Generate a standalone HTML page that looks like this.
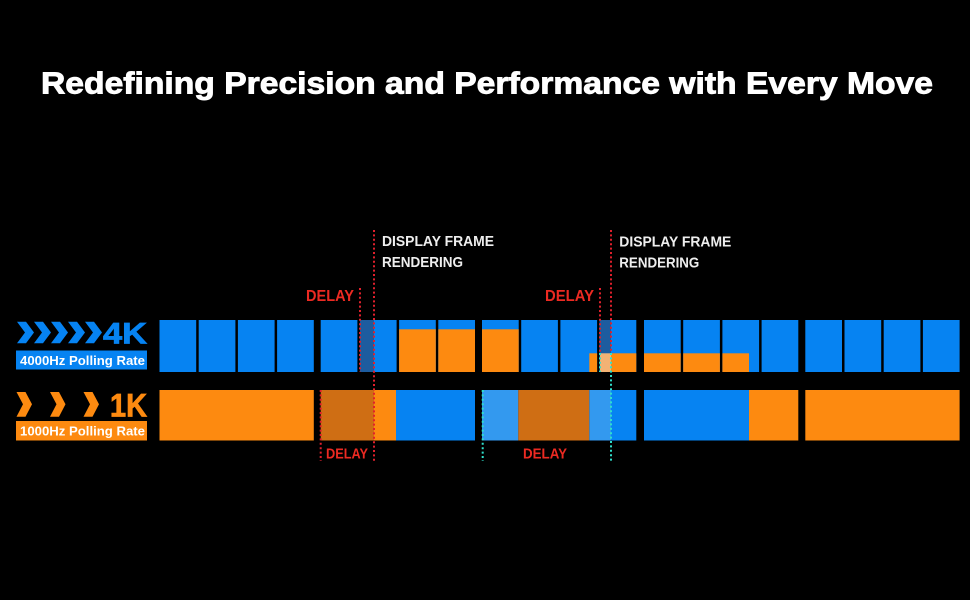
<!DOCTYPE html>
<html><head><meta charset="utf-8"><style>
html,body{margin:0;padding:0;background:#000;}
svg{display:block;}
text{font-family:"Liberation Sans",sans-serif;}
</style></head><body>
<svg width="970" height="600" viewBox="0 0 970 600" xmlns="http://www.w3.org/2000/svg">
<rect width="970" height="600" fill="#000"/>
<text x="41" y="93.5" font-size="31" font-weight="bold" fill="#fff" stroke="#fff" stroke-width="0.9" textLength="892" lengthAdjust="spacingAndGlyphs">Redefining Precision and Performance with Every Move</text>

<!-- Row 1 blue blocks -->
<g fill="#0683f2">
<rect x="159.5" y="320" width="36.7" height="52"/><rect x="198.7" y="320" width="36.7" height="52"/><rect x="237.9" y="320" width="36.7" height="52"/><rect x="277.1" y="320" width="36.7" height="52"/>
<rect x="320.7" y="320" width="36.7" height="52"/><rect x="359.9" y="320" width="36.7" height="52"/><rect x="399.1" y="320" width="36.7" height="52"/><rect x="438.3" y="320" width="36.7" height="52"/>
<rect x="482" y="320" width="36.7" height="52"/><rect x="521.2" y="320" width="36.7" height="52"/><rect x="560.4" y="320" width="36.7" height="52"/><rect x="599.6" y="320" width="36.7" height="52"/>
<rect x="644" y="320" width="36.7" height="52"/><rect x="683.2" y="320" width="36.7" height="52"/><rect x="722.4" y="320" width="36.7" height="52"/><rect x="761.6" y="320" width="36.7" height="52"/>
<rect x="805.3" y="320" width="36.7" height="52"/><rect x="844.5" y="320" width="36.7" height="52"/><rect x="883.7" y="320" width="36.7" height="52"/><rect x="922.9" y="320" width="36.7" height="52"/>
</g>
<!-- Row 1 orange overlays -->
<g fill="#fd8a10">
<rect x="399.1" y="329.3" width="36.7" height="42.7"/>
<rect x="438.3" y="329.3" width="36.7" height="42.7"/>
<rect x="482" y="329.3" width="36.7" height="42.7"/>
<rect x="589.3" y="353.3" width="7.8" height="18.7"/>
<rect x="611" y="353.3" width="25.3" height="18.7"/>
<rect x="644" y="353.3" width="36.7" height="18.7"/>
<rect x="683.2" y="353.3" width="36.7" height="18.7"/>
<rect x="722.4" y="353.3" width="26.6" height="18.7"/>
</g>
<rect x="360" y="320" width="14" height="52" fill="#1d5c9f"/>
<rect x="600" y="320" width="11" height="33.3" fill="#1d5c9f"/>
<rect x="600" y="353.3" width="11" height="18.7" fill="#f3b274"/>

<!-- Row 2 -->
<rect x="159.5" y="390" width="154.3" height="50.5" fill="#fd8a10"/>
<rect x="320.7" y="390" width="53.3" height="50.5" fill="#cf6e14"/>
<rect x="374" y="390" width="22" height="50.5" fill="#fd8a10"/>
<rect x="396" y="390" width="79" height="50.5" fill="#0683f2"/>
<rect x="482" y="390" width="36.3" height="50.5" fill="#3399ef"/>
<rect x="518.3" y="390" width="71" height="50.5" fill="#cf6e14"/>
<rect x="589.3" y="390" width="21.7" height="50.5" fill="#3399ef"/>
<rect x="611" y="390" width="25.3" height="50.5" fill="#0683f2"/>
<rect x="644" y="390" width="105" height="50.5" fill="#0683f2"/>
<rect x="749" y="390" width="49.3" height="50.5" fill="#fd8a10"/>
<rect x="805.3" y="390" width="154.3" height="50.5" fill="#fd8a10"/>

<!-- Dotted lines -->
<g stroke-width="2" stroke-dasharray="2 2.4" fill="none">
<line x1="360" y1="288" x2="360" y2="372" stroke="#e0202c"/>
<line x1="374" y1="230" x2="374" y2="461" stroke="#e0202c"/>
<line x1="320.7" y1="390" x2="320.7" y2="461" stroke="#e0202c"/>
<line x1="600" y1="288" x2="600" y2="353" stroke="#e0202c"/>
<line x1="600" y1="353" x2="600" y2="372" stroke="#2fe0cc"/>
<line x1="611" y1="230" x2="611" y2="353" stroke="#e0202c"/>
<line x1="611" y1="353" x2="611" y2="461" stroke="#2fe0cc"/>
<line x1="482.7" y1="390" x2="482.7" y2="461" stroke="#2fe0cc"/>
</g>

<!-- Annotations -->
<g font-weight="bold">
<text x="306" y="301" font-size="15.5" fill="#ec2a22" textLength="48" lengthAdjust="spacingAndGlyphs">DELAY</text>
<text x="545" y="301" font-size="15.5" fill="#ec2a22" textLength="49" lengthAdjust="spacingAndGlyphs">DELAY</text>
<text x="326" y="458.3" font-size="14.5" fill="#ec2a22" textLength="42" lengthAdjust="spacingAndGlyphs">DELAY</text>
<text x="523" y="458.3" font-size="14.5" fill="#ec2a22" textLength="44" lengthAdjust="spacingAndGlyphs">DELAY</text>
<text x="382" y="246" font-size="15" fill="#eee" textLength="112" lengthAdjust="spacingAndGlyphs">DISPLAY FRAME</text>
<text x="382" y="267" font-size="15" fill="#eee" textLength="81" lengthAdjust="spacingAndGlyphs">RENDERING</text>
<text x="619.3" y="246.5" font-size="15" fill="#eee" textLength="112" lengthAdjust="spacingAndGlyphs">DISPLAY FRAME</text>
<text x="619.3" y="267.3" font-size="15" fill="#eee" textLength="80" lengthAdjust="spacingAndGlyphs">RENDERING</text>
</g>

<!-- Left labels -->
<g fill="#0683f2">
<polygon points="17,321.7 26,321.7 34,332.5 26,343.3 17,343.3 25,332.5"/>
<polygon points="34,321.7 43,321.7 51,332.5 43,343.3 34,343.3 42,332.5"/>
<polygon points="51,321.7 60,321.7 68,332.5 60,343.3 51,343.3 59,332.5"/>
<polygon points="68,321.7 77,321.7 85,332.5 77,343.3 68,343.3 76,332.5"/>
<polygon points="85,321.7 94,321.7 102,332.5 94,343.3 85,343.3 93,332.5"/>
<text x="103" y="343.3" font-size="30" font-weight="bold" stroke="#0683f2" stroke-width="0.8" textLength="44" lengthAdjust="spacingAndGlyphs">4K</text>
<rect x="16" y="350.5" width="131" height="19"/>
</g>
<text x="20" y="365" font-size="13" font-weight="bold" fill="#fff" textLength="125" lengthAdjust="spacingAndGlyphs">4000Hz Polling Rate</text>
<g fill="#fd8a10">
<polygon points="16.5,392 25.5,392 32,404.3 25.5,416.7 16.5,416.7 23,404.3"/>
<polygon points="50,392 59,392 65.5,404.3 59,416.7 50,416.7 56.5,404.3"/>
<polygon points="83.5,392 92.5,392 99,404.3 92.5,416.7 83.5,416.7 90,404.3"/>
<text x="110" y="416.7" font-size="32" font-weight="bold" stroke="#fd8a10" stroke-width="0.8" textLength="37" lengthAdjust="spacingAndGlyphs">1K</text>
<rect x="16" y="421" width="131" height="19.5"/>
</g>
<text x="20" y="435.5" font-size="13" font-weight="bold" fill="#fff" textLength="125" lengthAdjust="spacingAndGlyphs">1000Hz Polling Rate</text>
</svg>
</body></html>
